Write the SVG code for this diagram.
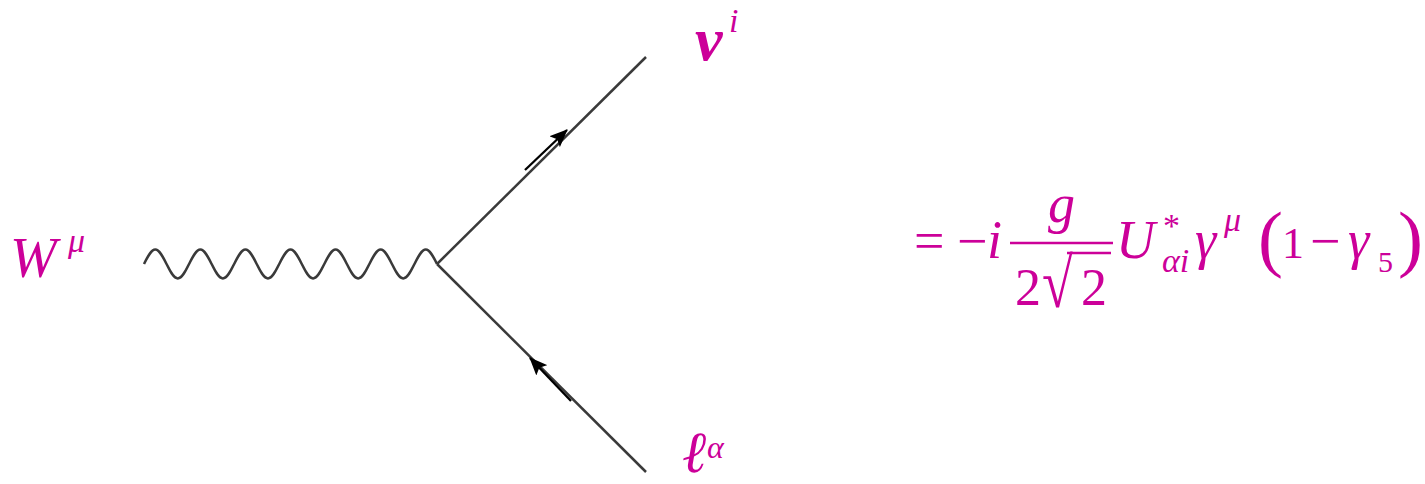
<svg xmlns="http://www.w3.org/2000/svg" width="1425" height="484" viewBox="0 0 1425 484">
<style>
text{fill:#CC0099;font-family:"Liberation Serif","DejaVu Serif",serif}
.it{font-style:italic}
.ln{stroke:#3a3a3a;stroke-width:2.5;fill:none}
.ar{stroke:#000;stroke-width:2.3;fill:none}
</style>
<defs>
<marker id="arr" viewBox="0 0 18 15" refX="17" refY="7.5" markerWidth="18" markerHeight="15" orient="auto" markerUnits="userSpaceOnUse">
<path d="M0,0 L18,7.5 L0,15 L3.5,7.5 z" fill="#000"/>
</marker>
</defs>
<g id="connectors">
<path class="ln" d="M144,264 c3.77,-7.61 7.175,-14.5 11.27,-14.5 c4.095,0 7.5,6.89 11.27,14.5 c3.77,7.61 7.175,14.5 11.27,14.5 c4.095,0 7.5,-6.89 11.27,-14.5 c3.77,-7.61 7.175,-14.5 11.27,-14.5 c4.095,0 7.5,6.89 11.27,14.5 c3.77,7.61 7.175,14.5 11.27,14.5 c4.095,0 7.5,-6.89 11.27,-14.5 c3.77,-7.61 7.175,-14.5 11.27,-14.5 c4.095,0 7.5,6.89 11.27,14.5 c3.77,7.61 7.175,14.5 11.27,14.5 c4.095,0 7.5,-6.89 11.27,-14.5 c3.77,-7.61 7.175,-14.5 11.27,-14.5 c4.095,0 7.5,6.89 11.27,14.5 c3.77,7.61 7.175,14.5 11.27,14.5 c4.095,0 7.5,-6.89 11.27,-14.5 c3.77,-7.61 7.175,-14.5 11.27,-14.5 c4.095,0 7.5,6.89 11.27,14.5 c3.77,7.61 7.175,14.5 11.27,14.5 c4.095,0 7.5,-6.89 11.27,-14.5 c3.77,-7.61 7.175,-14.5 11.27,-14.5 c4.095,0 7.5,6.89 11.27,14.5 c3.77,7.61 7.175,14.5 11.27,14.5 c4.095,0 7.5,-6.89 11.27,-14.5 c3.77,-7.61 7.175,-14.5 11.27,-14.5 c4.095,0 7.5,6.89 11.27,14.5"/>
<line class="ln" x1="437" y1="264" x2="646" y2="57"/>
<line class="ln" x1="437" y1="264" x2="646" y2="472"/>
<line class="ar" x1="525" y1="170" x2="567" y2="130" marker-end="url(#arr)"/>
<line class="ar" x1="571" y1="401" x2="530" y2="358" marker-end="url(#arr)"/>
</g>
<g id="W">
<text class="it" x="10" y="277" font-size="56">W</text>
<text class="it" x="68" y="252" font-size="34">μ</text>
</g>
<g id="nu">
<text class="it" x="695" y="60" font-size="62" font-weight="bold">ν</text>
<text class="it" x="729" y="32" font-size="34">i</text>
</g>
<g id="lepton">
<text class="it" x="683" y="472" font-size="58" font-weight="bold">ℓ</text>
<text class="it" x="707" y="458" font-size="32">α</text>
</g>
<g id="formula">
<text x="914" y="259" font-size="54">=</text>
<text x="957" y="259" font-size="54">−</text>
<text class="it" x="987" y="258" font-size="54">i</text>
<text class="it" x="1048" y="222" font-size="54">g</text>
<line x1="1010" y1="243" x2="1113" y2="243" stroke="#CC0099" stroke-width="2.6"/>
<text x="1015" y="305" font-size="52">2</text>
<text transform="translate(1042,307) scale(0.8,1)" font-size="70">√</text>
<line x1="1067" y1="253" x2="1111" y2="253" stroke="#CC0099" stroke-width="2.4"/>
<text x="1081" y="305" font-size="52">2</text>
<text class="it" x="1116" y="258" font-size="54">U</text>
<text x="1163" y="237" font-size="34">*</text>
<text class="it" x="1162" y="272" font-size="34">αi</text>
<text class="it" x="1195" y="258" font-size="54">γ</text>
<text class="it" x="1224" y="231" font-size="34">μ</text>
<text x="1258" y="263" font-size="75">(</text>
<text x="1282" y="258" font-size="44">1</text>
<text x="1310" y="259" font-size="54">−</text>
<text class="it" x="1348" y="258" font-size="54">γ</text>
<text x="1378" y="272" font-size="30">5</text>
<text x="1398" y="263" font-size="75">)</text>
</g>
</svg>
